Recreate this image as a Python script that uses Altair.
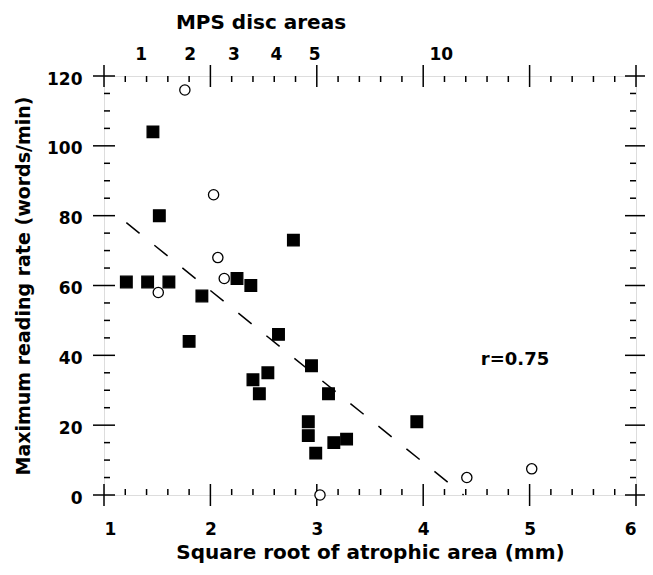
import altair as alt
import pandas as pd

# ---- data ----
filled_x = [1.46, 1.52, 1.21, 1.41, 1.61, 1.92, 2.25, 2.38, 2.78, 1.80, 2.64,
            2.40, 2.46, 2.54, 2.95, 3.11, 2.92, 2.92, 2.99, 3.16, 3.28, 3.94]
filled_y = [104, 80, 61, 61, 61, 57, 62, 60, 73, 44, 46,
            33, 29, 35, 37, 29, 21, 17, 12, 15, 16, 21]
open_x = [1.76, 2.03, 2.07, 2.13, 1.51, 3.03, 4.41, 5.02]
open_y = [116, 86, 68, 62, 58, 0, 5, 7.5]

fit_x = [1.21, 4.38]
fit_y = [78, 0]

x_major = [1, 2, 3, 4, 5, 6]
x_minor = [1.2, 1.4, 1.6, 1.8, 2.2, 2.4, 2.6, 2.8, 3.2, 3.4, 3.6, 3.8,
           4.2, 4.4, 4.6, 4.8, 5.2, 5.4, 5.6, 5.8]
y_major = [0, 20, 40, 60, 80, 100, 120]
y_minor = [5, 10, 15, 25, 30, 35, 45, 50, 55, 65, 70, 75, 85, 90, 95,
           105, 110, 115]

disc_labels = ["1", "2", "3", "4", "5", "10"]
disc_pos = [1.35, 1.81, 2.22, 2.62, 2.98, 4.17]

W, H = 532, 419
FONT = "DejaVu Sans"

xs = alt.Scale(domain=[1, 6], nice=False, zero=False)
ys = alt.Scale(domain=[0, 120], nice=False, zero=False)

xaxis = alt.Axis(values=x_major, format="d", ticks=False, domain=False, grid=False,
                 labelPadding=26, labelFontSize=17, labelFont=FONT, labelFontWeight="bold",
                 labelColor="black",
                 title="Square root of atrophic area (mm)", titleFontSize=20,
                 titleFont=FONT, titleFontWeight="bold", titlePadding=5,
                 titleColor="black")
yaxis = alt.Axis(values=y_major, format="d", ticks=False, domain=False, grid=False,
                 labelPadding=22, labelFontSize=17, labelFont=FONT, labelFontWeight="bold",
                 labelColor="black", labelOffset=3,
                 title="Maximum reading rate (words/min)", titleFontSize=19,
                 titleFont=FONT, titleFontWeight="bold", titlePadding=13,
                 titleColor="black")

pts = pd.DataFrame({"x": filled_x + open_x,
                    "y": filled_y + open_y,
                    "kind": ["filled"] * len(filled_x) + ["open"] * len(open_x)})
fit = pd.DataFrame({"x": fit_x, "y": fit_y})
xmaj = pd.DataFrame({"x": x_major})
xmin = pd.DataFrame({"x": x_minor})
ymaj = pd.DataFrame({"y": y_major})
ymin = pd.DataFrame({"y": y_minor})
disc = pd.DataFrame({"x": disc_pos, "t": disc_labels})

X = lambda: alt.X("x:Q", scale=xs, axis=xaxis)
Y = lambda: alt.Y("y:Q", scale=ys, axis=yaxis)

tick = dict(color="black", strokeWidth=1.5)

layers = [
    # bottom / top x ticks
    alt.Chart(xmaj).mark_rule(**tick).encode(x=X(), y=alt.value(H - 11), y2=alt.value(H + 11)),
    alt.Chart(xmin).mark_rule(**tick).encode(x=X(), y=alt.value(H - 6), y2=alt.value(H)),
    alt.Chart(xmaj).mark_rule(**tick).encode(x=X(), y=alt.value(-11), y2=alt.value(11)),
    alt.Chart(xmin).mark_rule(**tick).encode(x=X(), y=alt.value(0), y2=alt.value(6)),
    # left / right y ticks
    alt.Chart(ymaj).mark_rule(**tick).encode(y=Y(), x=alt.value(-11), x2=alt.value(11)),
    alt.Chart(ymin).mark_rule(**tick).encode(y=Y(), x=alt.value(0), x2=alt.value(6)),
    alt.Chart(ymaj).mark_rule(**tick).encode(y=Y(), x=alt.value(W - 11), x2=alt.value(W + 9)),
    alt.Chart(ymin).mark_rule(**tick).encode(y=Y(), x=alt.value(W - 6), x2=alt.value(W)),
    # regression line
    alt.Chart(fit).mark_line(color="black", strokeWidth=1.5, strokeDash=[17, 19]).encode(x=X(), y=Y()),
    # points
    alt.Chart(pts).mark_point(filled=True, opacity=1).encode(
        x=X(), y=Y(),
        shape=alt.Shape("kind:N", scale=alt.Scale(domain=["filled", "open"], range=["square", "circle"]), legend=None),
        size=alt.Size("kind:N", scale=alt.Scale(domain=["filled", "open"], range=[135, 105]), legend=None),
        fill=alt.Fill("kind:N", scale=alt.Scale(domain=["filled", "open"], range=["black", "white"]), legend=None),
        stroke=alt.value("black"),
        strokeWidth=alt.value(1.3),
    ),
    # top "MPS disc areas" labels
    alt.Chart(disc).mark_text(font=FONT, fontSize=17, fontWeight="bold", color="black",
                              baseline="middle").encode(x=X(), y=alt.value(-21), text="t:N"),
    alt.Chart(pd.DataFrame({"t": ["MPS disc areas"]})).mark_text(
        font=FONT, fontSize=20, fontWeight="bold", color="black", baseline="middle").encode(
        x=alt.value(157), y=alt.value(-53), text="t:N"),
    alt.Chart(pd.DataFrame({"t": ["r=0.75"]})).mark_text(
        font=FONT, fontSize=18, fontWeight="bold", color="black", baseline="middle").encode(
        x=alt.value(411), y=alt.value(284), text="t:N"),
]

chart = alt.layer(*layers).properties(
    width=W, height=H,
    padding={"left": 96, "top": 68, "right": 9, "bottom": 72},
    autosize=alt.AutoSizeParams(type="none"),
).configure_view(stroke="black", strokeWidth=2).configure(background="white")

chart.save("out.html", embed_options={"renderer": "svg", "actions": False})
